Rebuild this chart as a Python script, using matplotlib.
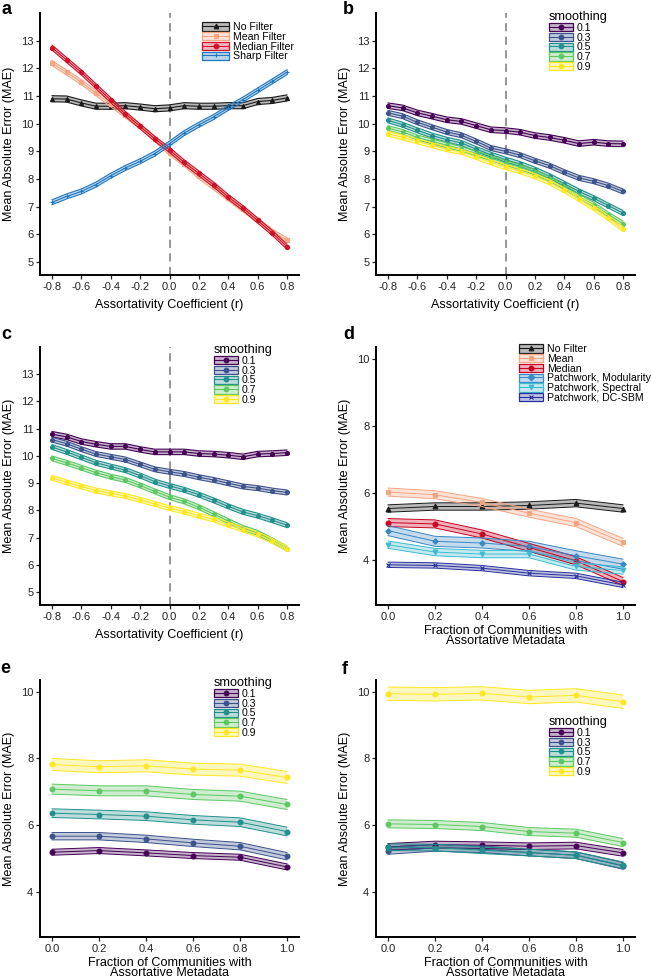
import numpy as np
import matplotlib
matplotlib.use("Agg")
import matplotlib.pyplot as plt
from matplotlib.patches import Patch
from matplotlib.lines import Line2D
from matplotlib.colors import to_rgba

plt.rcParams['font.family'] = ['Liberation Sans', 'DejaVu Sans']
plt.rcParams['axes.unicode_minus'] = False

# ---- data ----
r_vals = [-0.8, -0.7, -0.6, -0.5, -0.4, -0.3, -0.2, -0.1, 0.0,
          0.1, 0.2, 0.3, 0.4, 0.5, 0.6, 0.7, 0.8]
frac_vals = [0.0, 0.2, 0.4, 0.6, 0.8, 1.0]
smoothing_labels = ['0.1', '0.3', '0.5', '0.7', '0.9']
viridis5 = ['#440154', '#3B528B', '#21908C', '#5DC863', '#FDE725']

# panel a
a_labels = ['No Filter', 'Mean Filter', 'Median Filter', 'Sharp Filter']
a_no_filter = [10.90, 10.89, 10.75, 10.63, 10.63, 10.65, 10.60, 10.54, 10.57,
               10.65, 10.63, 10.63, 10.65, 10.65, 10.80, 10.84, 10.93]
a_mean = [12.19, 11.85, 11.50, 11.10, 10.70, 10.30, 9.90, 9.45, 8.95,
          8.55, 8.10, 7.70, 7.30, 6.90, 6.50, 6.10, 5.78]
a_median = [12.75, 12.30, 11.85, 11.35, 10.85, 10.35, 9.90, 9.45, 9.05,
            8.60, 8.20, 7.80, 7.35, 6.95, 6.50, 6.05, 5.55]
a_sharp = [7.16, 7.37, 7.55, 7.80, 8.12, 8.40, 8.64, 8.92, 9.28,
           9.66, 9.96, 10.24, 10.57, 10.87, 11.20, 11.53, 11.86]
a_ci = [0.11, 0.09, 0.09, 0.09]

# panel b
b_series = [
    [10.65, 10.57, 10.39, 10.27, 10.14, 10.08, 9.93, 9.78, 9.75,
     9.69, 9.57, 9.50, 9.40, 9.28, 9.33, 9.28, 9.27],
    [10.39, 10.27, 10.05, 9.87, 9.70, 9.58, 9.36, 9.12, 9.00,
     8.86, 8.66, 8.48, 8.25, 8.04, 7.92, 7.76, 7.55],
    [10.12, 9.96, 9.76, 9.57, 9.42, 9.30, 9.08, 8.88, 8.70,
     8.54, 8.34, 8.10, 7.83, 7.55, 7.31, 7.04, 6.77],
    [9.84, 9.70, 9.50, 9.36, 9.22, 9.08, 8.92, 8.76, 8.58,
     8.43, 8.24, 8.00, 7.71, 7.37, 7.07, 6.71, 6.39],
    [9.64, 9.50, 9.36, 9.22, 9.08, 8.98, 8.80, 8.60, 8.43,
     8.28, 8.10, 7.88, 7.59, 7.28, 6.95, 6.59, 6.19],
]
b_ci = [0.10, 0.09, 0.09, 0.09, 0.09]

# panel c
c_series = [
    [10.80, 10.70, 10.53, 10.43, 10.35, 10.35, 10.24, 10.15, 10.15,
     10.15, 10.09, 10.07, 10.03, 9.97, 10.07, 10.09, 10.12],
    [10.60, 10.45, 10.25, 10.07, 9.97, 9.87, 9.69, 9.51, 9.42,
     9.34, 9.22, 9.12, 9.00, 8.88, 8.82, 8.73, 8.66],
    [10.33, 10.15, 9.95, 9.75, 9.61, 9.48, 9.28, 9.06, 8.90,
     8.76, 8.58, 8.37, 8.15, 7.95, 7.81, 7.64, 7.46],
    [9.91, 9.75, 9.57, 9.39, 9.24, 9.12, 8.92, 8.70, 8.49,
     8.33, 8.12, 7.87, 7.61, 7.36, 7.18, 6.90, 6.60],
    [9.20, 9.03, 8.88, 8.73, 8.63, 8.53, 8.39, 8.24, 8.09,
     7.96, 7.81, 7.67, 7.48, 7.30, 7.12, 6.88, 6.60],
]
c_ci = [0.10, 0.09, 0.09, 0.09, 0.09]

# panel d
d_labels = ['No Filter', 'Mean', 'Median', 'Patchwork, Modularity',
            'Patchwork, Spectral', 'Patchwork, DC-SBM']
d_no_filter = [5.53, 5.59, 5.59, 5.62, 5.69, 5.53]
d_mean = [6.02, 5.94, 5.71, 5.39, 5.11, 4.52]
d_median = [5.11, 5.07, 4.77, 4.37, 3.97, 3.35]
d_modularity = [4.87, 4.55, 4.50, 4.40, 4.12, 3.87]
d_spectral = [4.45, 4.23, 4.17, 4.17, 3.80, 3.68]
d_dcsbm = [3.85, 3.83, 3.75, 3.60, 3.52, 3.25]
d_ci = [0.11, 0.12, 0.12, 0.15, 0.11, 0.08]

# panel e
e_series = [
    [5.19, 5.24, 5.17, 5.09, 5.04, 4.75],
    [5.67, 5.67, 5.59, 5.47, 5.37, 5.07],
    [6.36, 6.32, 6.27, 6.16, 6.09, 5.81],
    [7.08, 7.03, 7.03, 6.92, 6.87, 6.62],
    [7.82, 7.75, 7.78, 7.68, 7.65, 7.43],
]
e_ci = [0.09, 0.11, 0.13, 0.15, 0.18]

# panel f
f_series = [
    [5.35, 5.42, 5.40, 5.37, 5.39, 5.17],
    [5.23, 5.32, 5.28, 5.18, 5.10, 4.78],
    [5.34, 5.33, 5.25, 5.18, 5.10, 4.80],
    [6.04, 6.02, 5.96, 5.81, 5.76, 5.48],
    [9.94, 9.92, 9.95, 9.84, 9.89, 9.70],
]
f_ci = [0.1, 0.1, 0.1, 0.12, 0.2]

# ---- style ----
W, H = 652, 980
fig = plt.figure(figsize=(W / 100, H / 100), dpi=100)


def px_axes(l, t, r, b):
    return fig.add_axes([l / W, 1 - b / H, (r - l) / W, (b - t) / H])


def style_axes(ax):
    for s in ['top', 'right']:
        ax.spines[s].set_visible(False)
    for s in ['left', 'bottom']:
        ax.spines[s].set_linewidth(1.4)
    ax.tick_params(length=3, width=0.9, labelsize=8, colors='#222222', pad=2)
    ax.set_ylabel('Mean Absolute Error (MAE)', fontsize=9.1, labelpad=4)


def draw(ax, x, y, ci, color, marker, ms=3, alpha=0.3, mew=0.8, lw=0.7):
    y = np.asarray(y)
    lo, hi = y - ci, y + ci
    ax.fill_between(x, lo, hi, facecolor=to_rgba(color, alpha), edgecolor='none')
    ax.plot(x, lo, color=color, lw=lw)
    ax.plot(x, hi, color=color, lw=lw)
    ax.plot(x, y, color=color, lw=lw, marker=marker, ms=ms, mew=mew)


def add_legend(ax, colors, markers, labels, x, y, title=None, hl=2.3, alpha=0.3):
    handles = [(Patch(facecolor=to_rgba(c, alpha), edgecolor=c, lw=0.9),
                Line2D([], [], color=c, lw=0.8, marker=m, ms=3.4, mew=0.8))
               for c, m in zip(colors, markers)]
    leg = ax.legend(handles, labels, loc='upper left',
                    bbox_to_anchor=(x / W, 1 - y / H), bbox_transform=fig.transFigure,
                    frameon=False, borderpad=0, borderaxespad=0,
                    handlelength=hl, handleheight=0.85,
                    labelspacing=-0.02, handletextpad=0.35, fontsize=7.6,
                    title=title, title_fontsize=9.2, alignment='left')
    return leg


def r_axis(ax):
    ax.set_xlim(-0.88, 0.88)
    ax.set_ylim(4.53, 14.0)
    ticks = [-0.8, -0.6, -0.4, -0.2, 0.0, 0.2, 0.4, 0.6, 0.8]
    ax.set_xticks(ticks)
    ax.set_xticklabels(['%.1f' % v for v in ticks])
    ax.set_yticks(range(5, 14))
    ax.axvline(0, color='#8c8c8c', lw=1.3, ls=(0, (4.5, 3)), zorder=0)
    ax.set_xlabel('Assortativity Coefficient (r)', fontsize=9.1, labelpad=5)


def frac_axis(ax):
    ax.set_xlim(-0.05, 1.05)
    ax.set_ylim(2.65, 10.35)
    ax.set_xticks(frac_vals)
    ax.set_xticklabels(['%.1f' % v for v in frac_vals])
    ax.set_yticks([4, 6, 8, 10])
    ax.set_xlabel('Fraction of Communities with\nAssortative Metadata', fontsize=9.1,
                  labelpad=2, linespacing=0.85)


L1, R1, L2, R2 = 40.25, 298.75, 376.25, 634.75

# ---- a ----
ax = px_axes(L1, 13, R1, 275)
style_axes(ax)
r_axis(ax)
a_colors = ['#1a1a1a', '#F4A582', '#D0112B', '#1F78C1']
a_markers = ['^', 's', 'o', '+']
for ys, ci, c, m in zip([a_no_filter, a_mean, a_median, a_sharp], a_ci, a_colors, a_markers):
    draw(ax, r_vals, ys, ci, c, m, ms=3, lw=0.8)
add_legend(ax, a_colors, a_markers, a_labels, 202, 22, hl=2.6)

# ---- b ----
ax = px_axes(L2, 13, R2, 275)
style_axes(ax)
r_axis(ax)
for ys, ci, c in zip(b_series, b_ci, viridis5):
    draw(ax, r_vals, ys, ci, c, 'o', ms=2.8, lw=0.8)
add_legend(ax, viridis5, ['o'] * 5, smoothing_labels, 549, 11, title='smoothing')

# ---- c ----
ax = px_axes(L1, 347, R1, 605)
style_axes(ax)
r_axis(ax)
for ys, ci, c in zip(c_series, c_ci, viridis5):
    draw(ax, r_vals, ys, ci, c, 'o', ms=2.8, lw=0.8)
add_legend(ax, viridis5, ['o'] * 5, smoothing_labels, 214, 344, title='smoothing')

# ---- d ----
ax = px_axes(L2, 347, R2, 605)
style_axes(ax)
frac_axis(ax)
d_colors = ['#1a1a1a', '#F4A582', '#CA0020', '#3A88C4', '#3DBBD0', '#27309A']
d_markers = ['^', 's', 'o', 'D', 'v', 'x']
for ys, ci, c, m in zip([d_no_filter, d_mean, d_median, d_modularity, d_spectral, d_dcsbm],
                        d_ci, d_colors, d_markers):
    ms = 2.8 if m == 'D' else 3.5
    draw(ax, frac_vals, ys, ci, c, m, ms=ms)
add_legend(ax, d_colors, d_markers, d_labels, 519, 344, hl=2.3)

# ---- e ----
ax = px_axes(L1, 680, R1, 937)
style_axes(ax)
frac_axis(ax)
for ys, ci, c in zip(e_series, e_ci, viridis5):
    draw(ax, frac_vals, ys, ci, c, 'o', ms=3.5)
add_legend(ax, viridis5, ['o'] * 5, smoothing_labels, 214, 677, title='smoothing')

# ---- f ----
ax = px_axes(L2, 680, R2, 937)
style_axes(ax)
frac_axis(ax)
for ys, ci, c in zip(f_series, f_ci, viridis5):
    draw(ax, frac_vals, ys, ci, c, 'o', ms=3.5)
add_legend(ax, viridis5, ['o'] * 5, smoothing_labels, 549, 716, title='smoothing')

# panel letters
for letter, x, y in [('a', 1, 14), ('b', 343, 14), ('c', 1, 339),
                     ('d', 343, 339), ('e', 0, 673), ('f', 342, 674)]:
    fig.text(x / W, 1 - y / H, letter, fontsize=13, fontweight='bold', va='baseline')

fig.savefig('out.png', dpi=100)
